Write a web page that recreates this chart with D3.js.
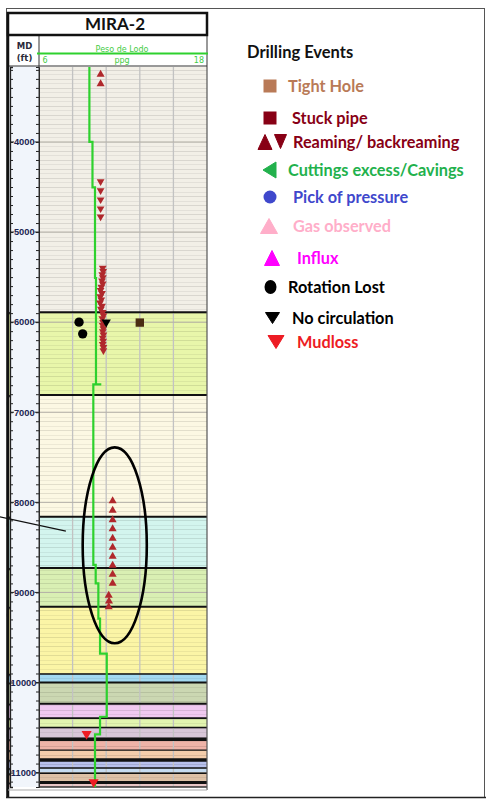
<!DOCTYPE html>
<html><head><meta charset="utf-8">
<script src="https://cdn.jsdelivr.net/npm/d3@7"></script>
<style>html,body{margin:0;padding:0;background:#fff}svg{display:block}</style>
</head><body><svg id="chart" width="486" height="801"></svg>
<script>
// ---------------- data ----------------
const wellName = "MIRA-2";
const depthDomain = [3168, 11160];
const mudDomain = [6, 18];
const mudGridPpg = [6, 8.4, 10.8, 13.2, 15.6, 18];
const depthLabels = [4000, 5000, 6000, 7000, 8000, 9000, 10000, 11000];

// formation intervals (ft MD)
const formationTop  = [3168, 5890, 6810, 8160, 8730, 9160, 9905, 10000, 10235, 10395, 10500, 10630, 10750, 10860, 10950, 11008, 11110];
const formationBase = [5890, 6810, 8160, 8730, 9160, 9905, 10000, 10235, 10395, 10500, 10630, 10750, 10860, 10950, 11008, 11110, 11160];
const formationFill = ["#f2efe7", "#e8f6aa", "#fcf8e3", "#d3f5ee", "#d9efb3", "#fbf5a6", "#a3d9f1", "#cbd7b2", "#f0c9f0",
                       "#e3f5b0", "#d8c6d8", "#efb3a8", "#f4cdab", "#b8c1ec", "#c6dcf1", "#ddc1a6", "#e9c6c6"];
const boundaryWeight = [0, 2, 2, 2, 2, 2, 1.6, 2, 2, 1.6, 1.6, 3.5, 1.2, 3.5, 1.5, 1.5, 3];

// mud weight profile (ppg)
const mudDepth = [3168, 4000, 4000, 4505, 4505, 5510, 5510, 6690, 6690, 6690, 8695, 8695, 8900, 8900, 9290, 9290, 9680, 9680, 10380, 10380, 10575, 10575, 11160];
const mudPpg   = [9.6, 9.6, 9.82, 9.82, 10.0, 10.0, 10.07, 10.07, 10.45, 9.88, 9.88, 10.05, 10.05, 10.24, 10.24, 10.36, 10.36, 10.84, 10.84, 10.36, 10.36, 10.0, 10.0];

// drilling events
const reamUpDepth = [3250, 3355, 7985, 8090, 8195, 8295, 8400, 8500, 8600, 8700, 8800, 8900, 9033, 9098, 9160];
const reamUpPpg   = [10.4, 10.4, 11.26, 11.26, 11.26, 11.26, 11.26, 11.26, 11.26, 11.26, 11.26, 11.26, 10.98, 11.0, 10.98];
const reamDownDepth = [4440, 4540, 4640, 4740, 4830,
  5400, 5435, 5470, 5505, 5540, 5575, 5610, 5645, 5680, 5715, 5750, 5785, 5820, 5855,
  5890, 5925, 5960, 6000, 6035, 6070, 6105, 6140, 6175, 6210, 6245, 6280, 6315];
const reamDownPpg = [10.4, 10.4, 10.4, 10.4, 10.4,
  10.55, 10.58, 10.52, 10.56, 10.5, 10.55, 10.45, 10.4, 10.5, 10.38, 10.45, 10.36, 10.5, 10.42,
  10.55, 10.6, 10.52, 10.58, 10.55, 10.6, 10.56, 10.6, 10.55, 10.58, 10.55, 10.6, 10.6];
const noCircDepth = [6000];
const noCircPpg = [10.8];
const rotLostDepth = [6000, 6130];
const rotLostPpg = [8.86, 9.12];
const tightDepth = [6005];
const tightPpg = [13.2];
const mudlossDepth = [10570, 11105];
const mudlossPpg = [9.4, 9.9];

// highlighted interval and pointer
const ellipsePpg = [9.12, 13.7];
const ellipseDepth = [7390, 9565];
const pointerPpg = [3.2, 7.92];
const pointerDepth = [8160, 8320];

// legend
const legendTitle = "Drilling Events";
const legendLabels = ["Tight Hole", "Stuck pipe", "Reaming/ backreaming", "Cuttings excess/Cavings", "Pick of pressure",
                      "Gas observed", "Influx", "Rotation Lost", "No circulation", "Mudloss"];

// ---------------- drawing ----------------
const svg = d3.select("#chart");
const FONT = "Lato, 'Liberation Sans', sans-serif";
const HDR = "'DejaVu Sans', Verdana, sans-serif";

const y = d3.scaleLinear().domain(depthDomain).range([67, 787]);
const x = d3.scaleLinear().domain(mudDomain).range([39, 207]);

// outer frame
svg.append("rect").attr("x", 6.5).attr("y", 8.5).attr("width", 478).attr("height", 789)
  .attr("fill", "none").attr("stroke", "#555").attr("stroke-width", 1);

// MD column background
svg.append("rect").attr("x", 8).attr("y", 66).attr("width", 31).attr("height", 721).attr("fill", "#f1f5fb");

// formation bands
const bands = formationTop.map((t, i) => ({ top: t, base: formationBase[i], fill: formationFill[i], w: boundaryWeight[i] }));
svg.append("g").selectAll("rect").data(bands).join("rect")
  .attr("x", x(mudDomain[0])).attr("width", x(mudDomain[1]) - x(mudDomain[0]))
  .attr("y", d => y(d.top)).attr("height", d => y(d.base) - y(d.top))
  .attr("fill", d => d.fill);

// lithology strip on left edge
svg.append("g").selectAll("rect").data(bands.slice(1)).join("rect")
  .attr("x", 7.5).attr("width", 2.5)
  .attr("y", d => y(d.top)).attr("height", d => y(d.base) - y(d.top))
  .attr("fill", d => d.fill);
svg.append("g").selectAll("path").data(bands.slice(1)).join("path")
  .attr("d", d => `M10,${y(d.top)} q-3,4 -2.5,10`)
  .attr("fill", "none").attr("stroke", "#222").attr("stroke-width", 1.2);

// fine horizontal stripes
const stripeDepths = d3.range(3200, 11160, 50);
svg.append("g").selectAll("line").data(stripeDepths).join("line")
  .attr("x1", x(6)).attr("x2", x(18))
  .attr("y1", d => Math.round(y(d)) + 0.5).attr("y2", d => Math.round(y(d)) + 0.5)
  .attr("stroke", "#000").attr("stroke-opacity", d => d % 100 === 0 ? 0.1 : 0.06).attr("stroke-width", 1);

// vertical grid
svg.append("g").selectAll("line").data(mudGridPpg.slice(1, -1)).join("line")
  .attr("x1", d => x(d)).attr("x2", d => x(d))
  .attr("y1", y(depthDomain[0])).attr("y2", y(depthDomain[1]))
  .attr("stroke", "#c2c2c2").attr("stroke-width", 1.3);

// 1000 ft lines
svg.append("g").selectAll("line").data(depthLabels).join("line")
  .attr("x1", x(6)).attr("x2", x(18))
  .attr("y1", d => y(d)).attr("y2", d => y(d))
  .attr("stroke", "#b4b0a8").attr("stroke-width", 1);

// formation boundaries
svg.append("g").selectAll("line").data(bands.slice(1)).join("line")
  .attr("x1", x(6)).attr("x2", x(18))
  .attr("y1", d => y(d.top)).attr("y2", d => y(d.top))
  .attr("stroke", "#111").attr("stroke-width", d => d.w);
svg.append("line").attr("x1", x(6)).attr("x2", x(18))
  .attr("y1", y(depthDomain[1])).attr("y2", y(depthDomain[1]))
  .attr("stroke", "#333").attr("stroke-width", 1.5);

// depth axes
const minorTicks = d3.range(3200, 11160, 100);
svg.append("g").attr("transform", "translate(39,0)")
  .call(d3.axisLeft(y).tickValues(minorTicks).tickSize(3).tickFormat(""))
  .call(g => g.select(".domain").attr("stroke", "#222"))
  .call(g => g.selectAll(".tick line").attr("stroke", "#222"));
svg.append("g").attr("transform", "translate(10,0)")
  .call(d3.axisRight(y).tickValues(minorTicks).tickSize(3).tickFormat(""))
  .call(g => g.select(".domain").attr("stroke", "#222").attr("stroke-width", 1.3))
  .call(g => g.selectAll(".tick line").attr("stroke", "#222"));
const lbl = svg.append("g").selectAll("g").data(depthLabels).join("g")
  .attr("transform", d => `translate(0,${y(d)})`);
lbl.append("line").attr("x1", 10).attr("x2", d => d >= 10000 ? 11 : 14).attr("stroke", "#222");
lbl.append("line").attr("x1", d => d >= 10000 ? 36 : 34.5).attr("x2", 39).attr("stroke", "#222");
lbl.append("text").attr("x", d => d >= 10000 ? 23.5 : 24.3).attr("dy", "0.36em")
  .attr("text-anchor", "middle").attr("font-family", "'Liberation Sans', Arial, sans-serif")
  .attr("font-weight", "bold").attr("font-size", 9.3).attr("fill", "#1c2552")
  .text(d => d);

// mud weight curve
const mudPts = mudDepth.map((d, i) => [mudPpg[i], d]);
svg.append("path").datum(mudPts)
  .attr("d", d3.line().x(d => x(d[0])).y(d => y(d[1])))
  .attr("fill", "none").attr("stroke", "#2ed12e").attr("stroke-width", 2.2);

// event markers
function plotSymbols(depths, ppgs, type, size, fill, rotate) {
  svg.append("g").selectAll("path").data(depths.map((d, i) => [ppgs[i], d])).join("path")
    .attr("transform", d => `translate(${x(d[0])},${y(d[1])}) rotate(${rotate})`)
    .attr("d", d3.symbol().type(type).size(size))
    .attr("fill", fill);
}
plotSymbols(reamDownDepth, reamDownPpg, d3.symbolTriangle, 26, "#b0282c", 180);
plotSymbols(reamUpDepth, reamUpPpg, d3.symbolTriangle, 28, "#b0282c", 0);
plotSymbols(rotLostDepth, rotLostPpg, d3.symbolCircle, 68, "#000", 0);
plotSymbols(noCircDepth, noCircPpg, d3.symbolTriangle, 38, "#000", 180);
plotSymbols(tightDepth, tightPpg, d3.symbolSquare, 70, "#4b2d13", 0);
plotSymbols(mudlossDepth, mudlossPpg, d3.symbolTriangle, 44, "#ee1c24", 180);

// highlighted interval
svg.append("ellipse")
  .attr("cx", (x(ellipsePpg[0]) + x(ellipsePpg[1])) / 2)
  .attr("cy", (y(ellipseDepth[0]) + y(ellipseDepth[1])) / 2)
  .attr("rx", (x(ellipsePpg[1]) - x(ellipsePpg[0])) / 2)
  .attr("ry", (y(ellipseDepth[1]) - y(ellipseDepth[0])) / 2)
  .attr("fill", "none").attr("stroke", "#000").attr("stroke-width", 2.6);
svg.append("line")
  .attr("x1", x(pointerPpg[0])).attr("y1", y(pointerDepth[0]))
  .attr("x2", x(pointerPpg[1])).attr("y2", y(pointerDepth[1]))
  .attr("stroke", "#111").attr("stroke-width", 1.2);

// panel frame
svg.append("line").attr("x1", 39).attr("x2", 39).attr("y1", 35).attr("y2", 787).attr("stroke", "#333").attr("stroke-width", 1);
svg.append("line").attr("x1", 207).attr("x2", 207).attr("y1", 35).attr("y2", 790).attr("stroke", "#555").attr("stroke-width", 1.2);
svg.append("line").attr("x1", 8).attr("x2", 207).attr("y1", 66).attr("y2", 66).attr("stroke", "#333").attr("stroke-width", 1);
svg.append("line").attr("x1", 8).attr("x2", 8).attr("y1", 12).attr("y2", 797).attr("stroke", "#111").attr("stroke-width", 2.5);
svg.append("line").attr("x1", 8).attr("x2", 207).attr("y1", 790).attr("y2", 790).attr("stroke", "#aaa").attr("stroke-width", 1);
svg.append("line").attr("x1", 6).attr("x2", 486).attr("y1", 797.5).attr("y2", 797.5).attr("stroke", "#222").attr("stroke-width", 1.5);

// title box
svg.append("rect").attr("x", 8).attr("y", 13).attr("width", 199).attr("height", 22)
  .attr("fill", "#fff").attr("stroke", "#111").attr("stroke-width", 2.5);
svg.append("text").attr("x", 115).attr("y", 30).attr("text-anchor", "middle")
  .attr("font-family", FONT).attr("font-weight", "bold").attr("font-size", 17).attr("fill", "#111")
  .text(wellName);

// header
svg.append("text").attr("x", 24.5).attr("y", 48.5).attr("text-anchor", "middle")
  .attr("font-family", HDR).attr("font-weight", "bold").attr("font-size", 8.5).attr("fill", "#2a2a3a").text("MD");
svg.append("text").attr("x", 24.5).attr("y", 60.5).attr("text-anchor", "middle")
  .attr("font-family", HDR).attr("font-weight", "bold").attr("font-size", 8.5).attr("fill", "#2a2a3a").text("(ft)");
svg.append("text").attr("x", 122).attr("y", 52).attr("text-anchor", "middle")
  .attr("font-family", HDR).attr("font-size", 8).attr("fill", "#44cc44").text("Peso de Lodo");
svg.append("line").attr("x1", 37).attr("x2", 208).attr("y1", 53.5).attr("y2", 53.5)
  .attr("stroke", "#2ed12e").attr("stroke-width", 2);
svg.append("text").attr("x", x(mudDomain[0]) + 6).attr("y", 62.5).attr("text-anchor", "middle")
  .attr("font-family", HDR).attr("font-size", 8).attr("fill", "#44cc44").text(mudDomain[0]);
svg.append("text").attr("x", 122).attr("y", 62.5).attr("text-anchor", "middle")
  .attr("font-family", HDR).attr("font-size", 8).attr("fill", "#44cc44").text("ppg");
svg.append("text").attr("x", x(mudDomain[1]) - 3).attr("y", 62.5).attr("text-anchor", "end")
  .attr("font-family", HDR).attr("font-size", 8).attr("fill", "#44cc44").text(mudDomain[1]);

// ---------------- legend ----------------
const legendY = [86, 118, 142, 170, 197, 226, 258, 287, 318, 342];
const legendTextX = [288, 292, 293, 288, 293, 293, 297, 288, 292, 297];
const legendColor = ["#b97a57", "#880015", "#880015", "#22b14c", "#3f48cc", "#ffaec9", "#ff00ff", "#000", "#000", "#ed1c24"];

function tri(cx, cy, w, h, dir) {
  if (dir === "up") return `M${cx - w / 2},${cy + h / 2}L${cx},${cy - h / 2}L${cx + w / 2},${cy + h / 2}Z`;
  if (dir === "down") return `M${cx - w / 2},${cy - h / 2}L${cx},${cy + h / 2}L${cx + w / 2},${cy - h / 2}Z`;
  return `M${cx + w / 2},${cy - h / 2}L${cx - w / 2},${cy}L${cx + w / 2},${cy + h / 2}Z`;
}
const lg = svg.append("g");
lg.append("text").attr("x", 247).attr("y", 58).attr("font-family", FONT).attr("font-weight", "bold")
  .attr("font-size", 16.5).attr("fill", "#111").text(legendTitle);

const sym = [
  g => g.append("rect").attr("x", 263.5).attr("y", legendY[0] - 6.5).attr("width", 13).attr("height", 13).attr("fill", legendColor[0]),
  g => g.append("rect").attr("x", 263.5).attr("y", legendY[1] - 6.5).attr("width", 13).attr("height", 13).attr("fill", legendColor[1]),
  g => { g.append("path").attr("d", tri(265, legendY[2], 14, 15, "up")).attr("fill", legendColor[2]).attr("stroke", legendColor[2]).attr("stroke-linejoin", "round");
         g.append("path").attr("d", tri(280.5, legendY[2] - 0.5, 12, 14, "down")).attr("fill", legendColor[2]).attr("stroke", legendColor[2]).attr("stroke-linejoin", "round"); },
  g => g.append("path").attr("d", tri(269.5, legendY[3], 13, 16, "left")).attr("fill", legendColor[3]).attr("stroke", legendColor[3]).attr("stroke-linejoin", "round"),
  g => g.append("circle").attr("cx", 270).attr("cy", legendY[4]).attr("r", 6.5).attr("fill", legendColor[4]),
  g => g.append("path").attr("d", tri(269, legendY[5], 17, 15, "up")).attr("fill", legendColor[5]).attr("stroke", legendColor[5]).attr("stroke-linejoin", "round"),
  g => g.append("path").attr("d", tri(272, legendY[6], 15, 15, "up")).attr("fill", legendColor[6]).attr("stroke", legendColor[6]).attr("stroke-linejoin", "round"),
  g => g.append("ellipse").attr("cx", 270.5).attr("cy", legendY[7]).attr("rx", 6).attr("ry", 7).attr("fill", legendColor[7]),
  g => g.append("path").attr("d", tri(272.5, legendY[8], 14, 11, "down")).attr("fill", legendColor[8]).attr("stroke", legendColor[8]).attr("stroke-linejoin", "round"),
  g => g.append("path").attr("d", tri(276, legendY[9], 16, 13, "down")).attr("fill", legendColor[9]).attr("stroke", legendColor[9]).attr("stroke-linejoin", "round")
];
sym.forEach(f => f(lg));
lg.selectAll("text.item").data(legendLabels).join("text").attr("class", "item")
  .attr("x", (d, i) => legendTextX[i]).attr("y", (d, i) => legendY[i]).attr("dy", "0.36em")
  .attr("font-family", FONT).attr("font-weight", "bold").attr("font-size", 16.3)
  .attr("fill", (d, i) => legendColor[i]).text(d => d);
</script>
</body></html>
